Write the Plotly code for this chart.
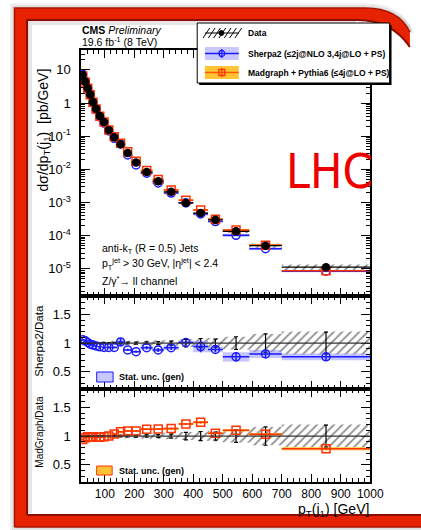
import numpy as np
import plotly.graph_objects as go

# ---------------- data ----------------
bin_edges = [20, 30, 38, 46, 55, 65, 76, 90, 105, 122, 142, 165, 190, 222,
             262, 300, 350, 400, 450, 500, 590, 700, 1000]

# measured cross section dsigma/dpT [pb/GeV]
data_xsec = [7.0, 4.4, 2.8, 1.8, 1.07, 0.67, 0.41, 0.27, 0.155, 0.093, 0.057,
             0.031, 0.016, 0.0083, 0.0044, 0.0021, 0.00097, 0.00048, 0.00030,
             0.000135, 5.0e-5, 1.12e-5]
# relative statistical and total uncertainties of the measurement
data_stat_rel = [0.01, 0.01, 0.01, 0.01, 0.01, 0.01, 0.01, 0.01, 0.01, 0.012,
                 0.014, 0.016, 0.018, 0.02, 0.025, 0.035, 0.065, 0.08, 0.07,
                 0.11, 0.16, 0.19]
data_tot_rel = [0.04, 0.035, 0.035, 0.035, 0.035, 0.035, 0.035, 0.035, 0.035,
                0.04, 0.04, 0.04, 0.04, 0.045, 0.05, 0.055, 0.07, 0.08, 0.09,
                0.11, 0.16, 0.2]

# generator predictions, as ratios to data
sherpa_ratio = [1.06, 1.04, 1.01, 0.98, 0.965, 0.95, 0.935, 0.925, 0.925,
                0.925, 1.02, 0.88, 0.85, 0.92, 0.88, 0.92, 1.01, 0.94, 0.89,
                0.76, 0.81, 0.76]
sherpa_err = [0.015, 0.012, 0.012, 0.012, 0.012, 0.012, 0.012, 0.012, 0.015,
              0.015, 0.07, 0.02, 0.02, 0.03, 0.035, 0.04, 0.03, 0.1, 0.05,
              0.08, 0.07, 0.06]
madgraph_ratio = [0.94, 0.97, 0.99, 0.99, 0.99, 0.98, 0.98, 0.99, 1.0, 1.035,
                  1.075, 1.09, 1.09, 1.12, 1.125, 1.13, 1.21, 1.24, 1.05, 1.10,
                  1.03, 0.78]
madgraph_err = [0.01, 0.01, 0.01, 0.01, 0.01, 0.01, 0.01, 0.01, 0.01, 0.01,
                0.012, 0.012, 0.012, 0.014, 0.015, 0.015, 0.018, 0.02, 0.02,
                0.02, 0.025, 0.025]

y_decades = [1e-5, 1e-4, 1e-3, 1e-2, 1e-1, 1, 10]
y_decade_labels = ["10<sup>-5</sup>", "10<sup>-4</sup>", "10<sup>-3</sup>",
                   "10<sup>-2</sup>", "10<sup>-1</sup>", "1", "10"]
ratio_ticks = [0.5, 1.0, 1.5]
ratio_labels = ["0.5", "1", "1.5"]

# ---------------- derived arrays ----------------
e = np.array(bin_edges, dtype=float)
ctr = 0.5 * (e[:-1] + e[1:])
wid = np.diff(e)
half = wid / 2
d = np.array(data_xsec)
dtot = np.array(data_tot_rel)
dstat = np.array(data_stat_rel)
sr = np.array(sherpa_ratio)
se = np.array(sherpa_err)
mr = np.array(madgraph_ratio)
me = np.array(madgraph_err)
sherpa = d * sr
madgraph = d * mr

W, H = 421, 530


def X(p):
    return p / W


def Y(p):
    return 1 - p / H


def P(x, y):
    return f"{X(x):.5f},{Y(y):.5f}"


BLUE = "#1a1aff"
BLUE_BAND = "rgba(150,150,255,0.55)"
RED = "#ff3300"
GOLD = "#ffc433"
FRAME_RED = "#e62200"
FONT = "Liberation Sans, Arial, sans-serif"
HATCH = dict(shape="/", fgcolor="#111", size=6, solidity=0.28)

fig = go.Figure()

# ---------- main panel ----------
fig.add_trace(go.Bar(x=ctr, base=d * (1 - dtot), y=d * 2 * dtot, width=wid,
                     marker=dict(color="rgba(0,0,0,0)", line=dict(width=0),
                                 pattern=HATCH),
                     xaxis="x", yaxis="y", hoverinfo="skip"))
fig.add_trace(go.Bar(x=ctr, base=madgraph * (1 - me / mr), y=madgraph * 2 * me / mr,
                     width=wid, marker=dict(color=GOLD, line=dict(width=0)),
                     xaxis="x", yaxis="y", hoverinfo="skip"))
fig.add_trace(go.Bar(x=ctr, base=sherpa * (1 - se / sr), y=sherpa * 2 * se / sr,
                     width=wid, marker=dict(color=BLUE_BAND, line=dict(width=0)),
                     xaxis="x", yaxis="y", hoverinfo="skip"))
fig.add_trace(go.Scatter(x=ctr, y=sherpa, mode="markers",
                         marker=dict(symbol="circle-open", size=8, color=BLUE,
                                     line=dict(width=1.5)),
                         error_x=dict(type="data", array=half, color=BLUE,
                                      thickness=1.5, width=0),
                         xaxis="x", yaxis="y"))
fig.add_trace(go.Scatter(x=ctr, y=madgraph, mode="markers",
                         marker=dict(symbol="square-open", size=8, color=RED,
                                     line=dict(width=1.5)),
                         error_x=dict(type="data", array=half, color=RED,
                                      thickness=1.5, width=0),
                         xaxis="x", yaxis="y"))
fig.add_trace(go.Scatter(x=ctr, y=d, mode="markers",
                         marker=dict(symbol="circle", size=8.5, color="black"),
                         error_x=dict(type="data", array=half, color="black",
                                      thickness=1.2, width=0),
                         xaxis="x", yaxis="y"))

# ---------- Sherpa / data ----------
fig.add_trace(go.Bar(x=ctr, base=1 - dtot, y=2 * dtot, width=wid,
                     marker=dict(color="rgba(0,0,0,0)", line=dict(width=0),
                                 pattern=HATCH),
                     xaxis="x2", yaxis="y2", hoverinfo="skip"))
fig.add_trace(go.Bar(x=ctr, base=sr - se, y=2 * se, width=wid,
                     marker=dict(color=BLUE_BAND, line=dict(width=0)),
                     xaxis="x2", yaxis="y2", hoverinfo="skip"))
fig.add_trace(go.Scatter(x=ctr, y=np.ones_like(ctr), mode="markers",
                         marker=dict(size=1, color="black"),
                         error_y=dict(type="data", array=dstat, color="black",
                                      thickness=1.2, width=2),
                         xaxis="x2", yaxis="y2"))
fig.add_trace(go.Scatter(x=ctr, y=sr, mode="markers",
                         marker=dict(symbol="circle-open", size=8, color=BLUE,
                                     line=dict(width=1.5)),
                         error_x=dict(type="data", array=half, color=BLUE,
                                      thickness=1.5, width=0),
                         error_y=dict(type="data", array=se, color=BLUE,
                                      thickness=1.5, width=0),
                         xaxis="x2", yaxis="y2"))

# ---------- MadGraph / data ----------
fig.add_trace(go.Bar(x=ctr, base=1 - dtot, y=2 * dtot, width=wid,
                     marker=dict(color="rgba(0,0,0,0)", line=dict(width=0),
                                 pattern=HATCH),
                     xaxis="x3", yaxis="y3", hoverinfo="skip"))
fig.add_trace(go.Bar(x=ctr, base=mr - me, y=2 * me, width=wid,
                     marker=dict(color=GOLD, line=dict(width=0)),
                     xaxis="x3", yaxis="y3", hoverinfo="skip"))
fig.add_trace(go.Scatter(x=ctr, y=np.ones_like(ctr), mode="markers",
                         marker=dict(size=1, color="black"),
                         error_y=dict(type="data", array=dstat, color="black",
                                      thickness=1.2, width=2),
                         xaxis="x3", yaxis="y3"))
fig.add_trace(go.Scatter(x=ctr, y=mr, mode="markers",
                         marker=dict(symbol="square-open", size=8, color=RED,
                                     line=dict(width=1.5)),
                         error_x=dict(type="data", array=half, color=RED,
                                      thickness=1.5, width=0),
                         error_y=dict(type="data", array=me, color=RED,
                                      thickness=1.5, width=0),
                         xaxis="x3", yaxis="y3"))

# ---------- axes ----------
xdom = [X(84), X(383)]
axis_common = dict(showline=True, linecolor="black", linewidth=1.6,
                   ticks="inside", tickcolor="black", tickwidth=1.3,
                   mirror="allticks", showgrid=False, zeroline=False,
                   tickfont=dict(family=FONT, size=13, color="black"))
x_common = dict(axis_common, range=[20, 1000], tickmode="linear", tick0=0,
                dtick=100, ticklen=8,
                minor=dict(ticks="inside", tickmode="linear", tick0=0, dtick=20,
                           ticklen=4, tickcolor="black", tickwidth=1))
minor_log = [m * 10.0 ** k for k in range(-6, 2) for m in range(2, 10)]
minor_ratio = [round(v, 2) for v in np.arange(0.2, 1.85, 0.1)]

fig.update_layout(
    xaxis=dict(x_common, domain=xdom, anchor="y", showticklabels=False),
    xaxis2=dict(x_common, domain=xdom, anchor="y2", matches="x",
                showticklabels=False),
    xaxis3=dict(x_common, domain=xdom, anchor="y3", matches="x",
                showticklabels=True, ticklabelstandoff=0,
                tickfont=dict(family=FONT, size=12, color="black")),
    yaxis=dict(axis_common, type="log", domain=[Y(296), Y(50)], anchor="x",
               range=[-5.82, 1.6], tickmode="array", tickvals=y_decades,
               ticktext=y_decade_labels, ticklen=9, ticklabelstandoff=6,
               minor=dict(ticks="inside", tickmode="array", tickvals=minor_log,
                          ticklen=4, tickcolor="black", tickwidth=1)),
    yaxis2=dict(axis_common, domain=[Y(389), Y(296)], anchor="x2",
                range=[0.2, 1.82], tickmode="array", tickvals=ratio_ticks,
                ticktext=ratio_labels, ticklen=9, ticklabelstandoff=6,
                minor=dict(ticks="inside", tickmode="array", tickvals=minor_ratio,
                           ticklen=4, tickcolor="black", tickwidth=1)),
    yaxis3=dict(axis_common, domain=[Y(482), Y(389)], anchor="x3",
                range=[0.2, 1.82], tickmode="array", tickvals=ratio_ticks,
                ticktext=ratio_labels, ticklen=9, ticklabelstandoff=6,
                minor=dict(ticks="inside", tickmode="array", tickvals=minor_ratio,
                           ticklen=4, tickcolor="black", tickwidth=1)),
)

shapes = []


def pshape(path, fill=None, lc="rgba(0,0,0,0)", lw=0):
    s = dict(type="path", xref="paper", yref="paper", layer="below",
             path=path, line=dict(color=lc, width=lw))
    if fill is not None:
        s["fillcolor"] = fill
    shapes.append(s)


def rshape(x0, y0, x1, y1, fill, lc="rgba(0,0,0,0)", lw=0):
    shapes.append(dict(type="rect", xref="paper", yref="paper", layer="below",
                       x0=x0, x1=x1, y0=y0, y1=y1, fillcolor=fill,
                       line=dict(color=lc, width=lw)))


# ---------- slide frame (red band, rounded top-right corner) ----------
# soft shadow just outside the band
for off, a in [(4, 0.06), (2.5, 0.10), (1, 0.14)]:
    pshape(f"M {P(15 - off, 527 + off)} L {P(15 - off, 8 - off)} "
           f"L {P(378, 8 - off)} Q {P(414, 8 - off)} {P(426, 34 - off)}",
           lc=f"rgba(0,0,0,{a})", lw=1.5)
    rshape(X(15 - off), Y(527 + off + 0.75), 1.05, Y(527 + off - 0.75),
           f"rgba(0,0,0,{a})")
# top band
pshape(f"M {P(15, 8)} L {P(378, 8)} Q {P(412, 8)} {P(424, 32)} "
       f"L {P(424, 47)} Q {P(405, 20)} {P(370, 20)} L {P(15, 20)} Z",
       fill=FRAME_RED)
# left and bottom bands
rshape(X(15), Y(527), X(28), Y(8), FRAME_RED)
rshape(X(15), Y(527), 1.05, Y(515), FRAME_RED)
# darker bevel edges
pshape(f"M {P(15, 527)} L {P(15, 8)} L {P(378, 8)} Q {P(412, 8)} {P(424, 32)}",
       lc="#a81400", lw=1.5)
pshape(f"M {P(28, 515)} L {P(28, 20)} L {P(370, 20)} Q {P(405, 20)} {P(424, 47)}",
       lc="#8a0d00", lw=2)
rshape(X(28), Y(516), 1.05, Y(514), "#8a0d00")
rshape(X(15), Y(527.7), 1.05, Y(526.3), "#a81400")
# faint inner shading along the top/left edge of the page
pshape(f"M {P(31, 513)} L {P(31, 23)} L {P(368, 23)}",
       lc="rgba(0,0,0,0.10)", lw=4)

# reference line at unity in the ratio panels
for xa, ya in [("x2", "y2"), ("x3", "y3")]:
    shapes.append(dict(type="line", xref=f"{xa} domain", yref=ya, x0=0, x1=1,
                       y0=1, y1=1, line=dict(color="#333", width=1.3)))

# ---------- legend box ----------
shapes.append(dict(type="rect", xref="paper", yref="paper",
                   x0=X(206), x1=X(405), y0=Y(85), y1=Y(25),
                   fillcolor="black", line=dict(width=0)))
shapes.append(dict(type="rect", xref="paper", yref="paper",
                   x0=X(204), x1=X(403), y0=Y(83), y1=Y(23),
                   fillcolor="white", line=dict(color="black", width=1)))
# data swatch: hatching, line and dot
for i in range(7):
    x0 = 210 + i * 5.5
    shapes.append(dict(type="line", xref="paper", yref="paper",
                       x0=X(x0), x1=X(x0 + 7), y0=Y(38), y1=Y(28),
                       line=dict(color="black", width=1)))
shapes.append(dict(type="line", xref="paper", yref="paper", x0=X(212),
                   x1=X(247), y0=Y(33), y1=Y(33), line=dict(color="black", width=1.2)))
shapes.append(dict(type="circle", xref="paper", yref="paper", x0=X(226.5),
                   x1=X(231.5), y0=Y(35.5), y1=Y(30.5), fillcolor="black",
                   line=dict(color="black", width=1)))
# Sherpa swatch
shapes.append(dict(type="rect", xref="paper", yref="paper", x0=X(212), x1=X(247),
                   y0=Y(60), y1=Y(47), fillcolor="#c8c8ff", line=dict(width=0)))
shapes.append(dict(type="line", xref="paper", yref="paper", x0=X(212), x1=X(247),
                   y0=Y(53.5), y1=Y(53.5), line=dict(color=BLUE, width=1.5)))
shapes.append(dict(type="line", xref="paper", yref="paper", x0=X(229.5), x1=X(229.5),
                   y0=Y(58), y1=Y(49), line=dict(color=BLUE, width=1.2)))
shapes.append(dict(type="circle", xref="paper", yref="paper", x0=X(226.5),
                   x1=X(232.5), y0=Y(56.5), y1=Y(50.5), fillcolor="rgba(0,0,0,0)",
                   line=dict(color=BLUE, width=1.3)))
# Madgraph swatch
shapes.append(dict(type="rect", xref="paper", yref="paper", x0=X(212), x1=X(247),
                   y0=Y(79), y1=Y(66), fillcolor=GOLD, line=dict(width=0)))
shapes.append(dict(type="line", xref="paper", yref="paper", x0=X(212), x1=X(247),
                   y0=Y(72.5), y1=Y(72.5), line=dict(color="#ff5a00", width=1.5)))
shapes.append(dict(type="line", xref="paper", yref="paper", x0=X(229.5), x1=X(229.5),
                   y0=Y(77), y1=Y(68), line=dict(color=RED, width=1.2)))
shapes.append(dict(type="rect", xref="paper", yref="paper", x0=X(226.5),
                   x1=X(232.5), y0=Y(75.5), y1=Y(69.5), fillcolor="rgba(0,0,0,0)",
                   line=dict(color=RED, width=1.3)))

# ratio-panel legend swatches
shapes.append(dict(type="rect", xref="paper", yref="paper", x0=X(100), x1=X(117),
                   y0=Y(382), y1=Y(372), fillcolor="#c8c8ff",
                   line=dict(color=BLUE, width=1)))
shapes.append(dict(type="rect", xref="paper", yref="paper", x0=X(100), x1=X(116),
                   y0=Y(475), y1=Y(466), fillcolor=GOLD,
                   line=dict(color=RED, width=1)))

ann = []


def txt(x, y, s, size, anchor="left", angle=0, color="black", yanchor="middle",
        family=FONT):
    ann.append(dict(x=X(x), y=Y(y), xref="paper", yref="paper", text=s,
                    showarrow=False, xanchor=anchor, yanchor=yanchor,
                    textangle=angle,
                    font=dict(family=family, size=size, color=color)))


txt(83, 29.5, "<b>CMS</b> <i>Preliminary</i>", 10.5)
txt(83, 42, "19.6 fb<sup>-1</sup> (8 TeV)", 10.5)
txt(254, 33, "<b>Data</b>", 8.5)
txt(254, 53.5, "<b>Sherpa2 (≤2j@NLO 3,4j@LO + PS)</b>", 8.5)
txt(254, 72.5, "<b>Madgraph + Pythia6 (≤4j@LO + PS)</b>", 8.5)
txt(341, 171, "LHC", 48, anchor="center", color="#ee0000",
    family="DejaVu Sans Condensed, Liberation Sans, sans-serif")
txt(103, 249, "anti-k<sub>T</sub> (R = 0.5) Jets", 10.5)
txt(103, 264, "p<sub>T</sub><sup>jet</sup> > 30 GeV, |η<sup>jet</sup>| < 2.4", 10.5)
txt(103, 280, "Z/γ<sup>*</sup>→ ll channel", 10.5)
txt(121, 377, "<b>Stat. unc. (gen)</b>", 9)
txt(121, 470.5, "<b>Stat. unc. (gen)</b>", 9)
txt(45, 130, "dσ/dp<sub>T</sub>(j<sub>1</sub>)  [pb/GeV]", 14, anchor="center", angle=-90)
txt(40, 341, "Sherpa2/Data", 11.5, anchor="center", angle=-90)
txt(40, 432, "MadGraph/Data", 10, anchor="center", angle=-90)
txt(384, 499, "p<sub>T</sub>(j<sub>1</sub>) [GeV]", 14, anchor="right", yanchor="top")

fig.update_layout(
    width=W, height=H, autosize=False,
    margin=dict(l=0, r=0, t=0, b=0),
    paper_bgcolor="white", plot_bgcolor="rgba(0,0,0,0)",
    barmode="overlay", showlegend=False,
    shapes=shapes, annotations=ann,
    font=dict(family=FONT, color="black"),
)

fig.write_html("out.html")
